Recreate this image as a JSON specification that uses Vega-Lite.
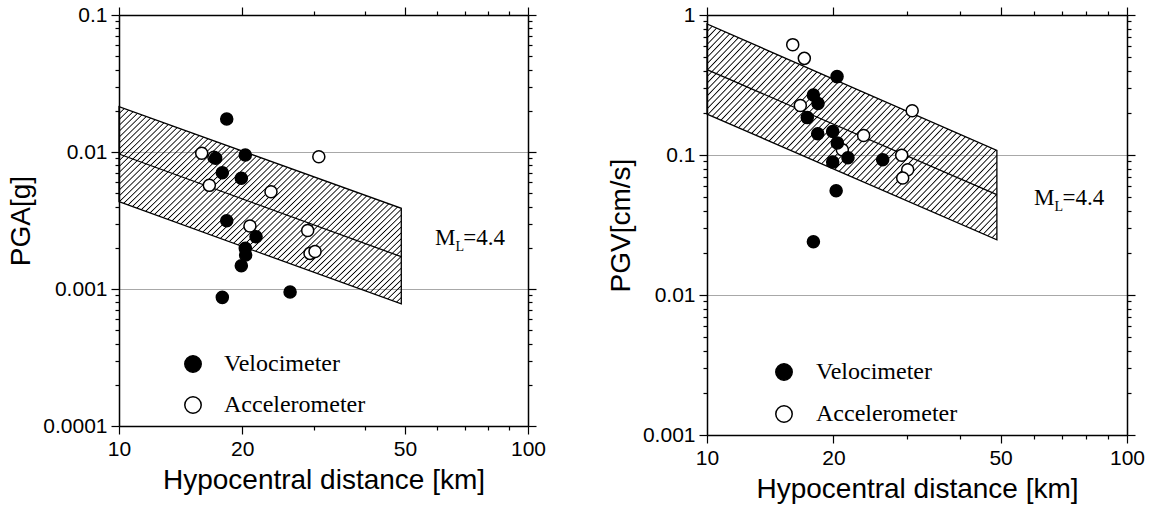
{
  "$schema": "https://vega.github.io/schema/vega-lite/v6.json",
  "background": "white",
  "padding": {"left": 7, "top": 4, "right": 5, "bottom": 5},
  "datasets": {
    "pga_points": [
      {"sensor": "Accelerometer", "distance": 15.93, "pga": 0.00978},
      {"sensor": "Accelerometer", "distance": 17.07, "pga": 0.00915},
      {"sensor": "Accelerometer", "distance": 30.8, "pga": 0.00924},
      {"sensor": "Accelerometer", "distance": 16.63, "pga": 0.00571},
      {"sensor": "Accelerometer", "distance": 23.53, "pga": 0.00513},
      {"sensor": "Accelerometer", "distance": 20.9, "pga": 0.00288},
      {"sensor": "Accelerometer", "distance": 28.93, "pga": 0.00267},
      {"sensor": "Accelerometer", "distance": 29.31, "pga": 0.00182},
      {"sensor": "Accelerometer", "distance": 30.15, "pga": 0.00188},
      {"sensor": "Velocimeter", "distance": 18.34, "pga": 0.0174},
      {"sensor": "Velocimeter", "distance": 17.23, "pga": 0.00899},
      {"sensor": "Velocimeter", "distance": 20.36, "pga": 0.00951},
      {"sensor": "Velocimeter", "distance": 17.89, "pga": 0.00706},
      {"sensor": "Velocimeter", "distance": 19.91, "pga": 0.00643},
      {"sensor": "Velocimeter", "distance": 18.34, "pga": 0.00315},
      {"sensor": "Velocimeter", "distance": 21.63, "pga": 0.00241},
      {"sensor": "Velocimeter", "distance": 20.36, "pga": 0.00198},
      {"sensor": "Velocimeter", "distance": 20.4, "pga": 0.00177},
      {"sensor": "Velocimeter", "distance": 19.91, "pga": 0.00148},
      {"sensor": "Velocimeter", "distance": 17.89, "pga": 0.000869},
      {"sensor": "Velocimeter", "distance": 26.2, "pga": 0.000951}
    ],
    "pgv_points": [
      {"sensor": "Accelerometer", "distance": 16.0, "pgv": 0.614},
      {"sensor": "Accelerometer", "distance": 17.05, "pgv": 0.49},
      {"sensor": "Accelerometer", "distance": 16.68, "pgv": 0.226},
      {"sensor": "Accelerometer", "distance": 30.8, "pgv": 0.207},
      {"sensor": "Accelerometer", "distance": 23.6, "pgv": 0.138},
      {"sensor": "Accelerometer", "distance": 21.0, "pgv": 0.109},
      {"sensor": "Accelerometer", "distance": 29.08, "pgv": 0.0995},
      {"sensor": "Accelerometer", "distance": 30.05, "pgv": 0.0785},
      {"sensor": "Accelerometer", "distance": 29.24, "pgv": 0.0685},
      {"sensor": "Velocimeter", "distance": 20.4, "pgv": 0.363},
      {"sensor": "Velocimeter", "distance": 17.92, "pgv": 0.268},
      {"sensor": "Velocimeter", "distance": 18.38, "pgv": 0.233},
      {"sensor": "Velocimeter", "distance": 17.33, "pgv": 0.185},
      {"sensor": "Velocimeter", "distance": 18.35, "pgv": 0.142},
      {"sensor": "Velocimeter", "distance": 19.92, "pgv": 0.147},
      {"sensor": "Velocimeter", "distance": 20.43, "pgv": 0.122},
      {"sensor": "Velocimeter", "distance": 19.92, "pgv": 0.0891},
      {"sensor": "Velocimeter", "distance": 21.66, "pgv": 0.0957},
      {"sensor": "Velocimeter", "distance": 26.2, "pgv": 0.0926},
      {"sensor": "Velocimeter", "distance": 20.3, "pgv": 0.0556},
      {"sensor": "Velocimeter", "distance": 17.92, "pgv": 0.024}
    ],
    "pga_band": [
      {"distance": 10, "lower": 0.004337, "median": 0.00967, "upper": 0.02143},
      {"distance": 49, "lower": 0.000778, "median": 0.001721, "upper": 0.003882}
    ],
    "pgv_band": [
      {"distance": 10, "lower": 0.196, "median": 0.407, "upper": 0.863},
      {"distance": 49, "lower": 0.0248, "median": 0.0521, "upper": 0.108}
    ],
    "pga_label": [
      {"role": "main", "distance": 59.25, "value": 0.002094, "text": "M"},
      {"role": "sub", "distance": 66.5, "value": 0.001894, "text": "L"},
      {"role": "main", "distance": 69.5, "value": 0.002094, "text": "=4.4"}
    ],
    "pgv_label": [
      {"role": "main", "distance": 60.05, "value": 0.04395, "text": "M"},
      {"role": "sub", "distance": 67.2, "value": 0.0398, "text": "L"},
      {"role": "main", "distance": 70.2, "value": 0.04395, "text": "=4.4"}
    ]
  },
  "spacing": 179,
  "bounds": "flush",
  "resolve": {"legend": {"fill": "independent"}},
  "hconcat": [
    {
      "width": 409,
      "height": 411,
      "resolve": {"axis": {"x": "independent", "y": "independent"}},
      "layer": [
        {
          "data": {"name": "pga_band"},
          "mark": {"type": "area", "stroke": "black", "strokeWidth": 1.3, "opacity": 1},
          "encoding": {
            "x": {"field": "distance", "type": "quantitative", "scale": {"type": "log", "domain": [10, 100], "nice": false},
              "axis": {"orient": "bottom", "values": [10, 20, 30, 40, 50, 60, 70, 80, 90, 100], "format": "~g",
                "labelExpr": "indexof([10,20,50,100], datum.value) >= 0 ? datum.label : ''",
                "tickSize": {"condition": {"test": "indexof([10,20,50,100], datum.value) >= 0", "value": 8}, "value": 4},
                "title": "Hypocentral distance [km]", "grid": false}},
            "y": {"field": "lower", "type": "quantitative", "scale": {"type": "log", "domain": [0.0001, 0.1], "nice": false},
              "axis": {"orient": "left", "values": [0.0001, 0.0002, 0.0003, 0.0004, 0.0005, 0.0006, 0.0007, 0.0008, 0.0009, 0.001, 0.002, 0.003, 0.004, 0.005, 0.006, 0.007, 0.008, 0.009, 0.01, 0.02, 0.03, 0.04, 0.05, 0.06, 0.07, 0.08, 0.09, 0.1],
                "format": "~g",
                "labelExpr": "abs(log(datum.value)/LN10 - round(log(datum.value)/LN10)) < 0.001 ? datum.label : ''",
                "tickSize": {"condition": {"test": "abs(log(datum.value)/LN10 - round(log(datum.value)/LN10)) < 0.001", "value": 8}, "value": 4},
                "grid": true, "gridColor": "#a8a8a8", "gridWidth": 1,
                "gridOpacity": {"condition": {"test": "abs(log(datum.value)/LN10 - round(log(datum.value)/LN10)) < 0.001", "value": 1}, "value": 0},
                "title": "PGA[g]"}},
            "y2": {"field": "upper"}
          }
        },
        {
          "data": {"name": "pga_band"},
          "mark": {"type": "line", "color": "black", "strokeWidth": 1.3},
          "encoding": {
            "x": {"field": "distance", "type": "quantitative", "scale": {"type": "log", "domain": [10, 100], "nice": false},
              "axis": {"orient": "top", "values": [10, 20, 30, 40, 50, 60, 70, 80, 90, 100], "labels": false, "title": null, "grid": false,
                "tickSize": {"condition": {"test": "indexof([10,20,50,100], datum.value) >= 0", "value": 8}, "value": 4}}},
            "y": {"field": "median", "type": "quantitative", "scale": {"type": "log", "domain": [0.0001, 0.1], "nice": false},
              "axis": {"orient": "right", "values": [0.0001, 0.0002, 0.0003, 0.0004, 0.0005, 0.0006, 0.0007, 0.0008, 0.0009, 0.001, 0.002, 0.003, 0.004, 0.005, 0.006, 0.007, 0.008, 0.009, 0.01, 0.02, 0.03, 0.04, 0.05, 0.06, 0.07, 0.08, 0.09, 0.1],
                "labels": false, "title": null, "grid": false,
                "tickSize": {"condition": {"test": "abs(log(datum.value)/LN10 - round(log(datum.value)/LN10)) < 0.001", "value": 8}, "value": 4}}}
          }
        },
        {
          "data": {"name": "pga_points"},
          "mark": {"type": "point", "shape": "circle", "filled": true, "size": 145, "stroke": "black", "strokeWidth": 1.5, "opacity": 1},
          "encoding": {
            "x": {"field": "distance", "type": "quantitative", "scale": {"type": "log", "domain": [10, 100], "nice": false}, "axis": null},
            "y": {"field": "pga", "type": "quantitative", "scale": {"type": "log", "domain": [0.0001, 0.1], "nice": false}, "axis": null},
            "fill": {"field": "sensor", "type": "nominal", "scale": {"domain": ["Velocimeter", "Accelerometer"], "range": ["black", "white"]},
              "legend": {"orient": "none", "legendX": 62, "legendY": 337, "title": null, "rowPadding": 17, "labelOffset": 19, "padding": 0}}
          }
        },
        {
          "data": {"name": "pga_label"},
          "transform": [{"filter": "datum.role == 'main'"}],
          "mark": {"type": "text", "font": "Liberation Serif", "fontSize": 23, "align": "left", "baseline": "alphabetic", "color": "black"},
          "encoding": {
            "x": {"field": "distance", "type": "quantitative", "scale": {"type": "log", "domain": [10, 100], "nice": false}, "axis": null},
            "y": {"field": "value", "type": "quantitative", "scale": {"type": "log", "domain": [0.0001, 0.1], "nice": false}, "axis": null},
            "text": {"field": "text"}
          }
        },
        {
          "data": {"name": "pga_label"},
          "transform": [{"filter": "datum.role == 'sub'"}],
          "mark": {"type": "text", "font": "Liberation Serif", "fontSize": 14, "align": "left", "baseline": "alphabetic", "color": "black"},
          "encoding": {
            "x": {"field": "distance", "type": "quantitative", "scale": {"type": "log", "domain": [10, 100], "nice": false}, "axis": null},
            "y": {"field": "value", "type": "quantitative", "scale": {"type": "log", "domain": [0.0001, 0.1], "nice": false}, "axis": null},
            "text": {"field": "text"}
          }
        }
      ]
    },
    {
      "width": 420,
      "height": 420,
      "resolve": {"axis": {"x": "independent", "y": "independent"}},
      "layer": [
        {
          "data": {"name": "pgv_band"},
          "mark": {"type": "area", "stroke": "black", "strokeWidth": 1.3, "opacity": 1},
          "encoding": {
            "x": {"field": "distance", "type": "quantitative", "scale": {"type": "log", "domain": [10, 100], "nice": false},
              "axis": {"orient": "bottom", "values": [10, 20, 30, 40, 50, 60, 70, 80, 90, 100], "format": "~g",
                "labelExpr": "indexof([10,20,50,100], datum.value) >= 0 ? datum.label : ''",
                "tickSize": {"condition": {"test": "indexof([10,20,50,100], datum.value) >= 0", "value": 8}, "value": 4},
                "title": "Hypocentral distance [km]", "grid": false}},
            "y": {"field": "lower", "type": "quantitative", "scale": {"type": "log", "domain": [0.001, 1], "nice": false},
              "axis": {"orient": "left", "values": [0.001, 0.002, 0.003, 0.004, 0.005, 0.006, 0.007, 0.008, 0.009, 0.01, 0.02, 0.03, 0.04, 0.05, 0.06, 0.07, 0.08, 0.09, 0.1, 0.2, 0.3, 0.4, 0.5, 0.6, 0.7, 0.8, 0.9, 1],
                "format": "~g",
                "labelExpr": "abs(log(datum.value)/LN10 - round(log(datum.value)/LN10)) < 0.001 ? datum.label : ''",
                "tickSize": {"condition": {"test": "abs(log(datum.value)/LN10 - round(log(datum.value)/LN10)) < 0.001", "value": 8}, "value": 4},
                "grid": true, "gridColor": "#a8a8a8", "gridWidth": 1,
                "gridOpacity": {"condition": {"test": "abs(log(datum.value)/LN10 - round(log(datum.value)/LN10)) < 0.001", "value": 1}, "value": 0},
                "title": "PGV[cm/s]"}},
            "y2": {"field": "upper"}
          }
        },
        {
          "data": {"name": "pgv_band"},
          "mark": {"type": "line", "color": "black", "strokeWidth": 1.3},
          "encoding": {
            "x": {"field": "distance", "type": "quantitative", "scale": {"type": "log", "domain": [10, 100], "nice": false},
              "axis": {"orient": "top", "values": [10, 20, 30, 40, 50, 60, 70, 80, 90, 100], "labels": false, "title": null, "grid": false,
                "tickSize": {"condition": {"test": "indexof([10,20,50,100], datum.value) >= 0", "value": 8}, "value": 4}}},
            "y": {"field": "median", "type": "quantitative", "scale": {"type": "log", "domain": [0.001, 1], "nice": false},
              "axis": {"orient": "right", "values": [0.001, 0.002, 0.003, 0.004, 0.005, 0.006, 0.007, 0.008, 0.009, 0.01, 0.02, 0.03, 0.04, 0.05, 0.06, 0.07, 0.08, 0.09, 0.1, 0.2, 0.3, 0.4, 0.5, 0.6, 0.7, 0.8, 0.9, 1],
                "labels": false, "title": null, "grid": false,
                "tickSize": {"condition": {"test": "abs(log(datum.value)/LN10 - round(log(datum.value)/LN10)) < 0.001", "value": 8}, "value": 4}}}
          }
        },
        {
          "data": {"name": "pgv_points"},
          "mark": {"type": "point", "shape": "circle", "filled": true, "size": 145, "stroke": "black", "strokeWidth": 1.5, "opacity": 1},
          "encoding": {
            "x": {"field": "distance", "type": "quantitative", "scale": {"type": "log", "domain": [10, 100], "nice": false}, "axis": null},
            "y": {"field": "pgv", "type": "quantitative", "scale": {"type": "log", "domain": [0.001, 1], "nice": false}, "axis": null},
            "fill": {"field": "sensor", "type": "nominal", "scale": {"domain": ["Velocimeter", "Accelerometer"], "range": ["black", "white"]},
              "legend": {"orient": "none", "legendX": 65, "legendY": 345, "title": null, "rowPadding": 18, "labelOffset": 20, "padding": 0}}
          }
        },
        {
          "data": {"name": "pgv_label"},
          "transform": [{"filter": "datum.role == 'main'"}],
          "mark": {"type": "text", "font": "Liberation Serif", "fontSize": 23, "align": "left", "baseline": "alphabetic", "color": "black"},
          "encoding": {
            "x": {"field": "distance", "type": "quantitative", "scale": {"type": "log", "domain": [10, 100], "nice": false}, "axis": null},
            "y": {"field": "value", "type": "quantitative", "scale": {"type": "log", "domain": [0.001, 1], "nice": false}, "axis": null},
            "text": {"field": "text"}
          }
        },
        {
          "data": {"name": "pgv_label"},
          "transform": [{"filter": "datum.role == 'sub'"}],
          "mark": {"type": "text", "font": "Liberation Serif", "fontSize": 14, "align": "left", "baseline": "alphabetic", "color": "black"},
          "encoding": {
            "x": {"field": "distance", "type": "quantitative", "scale": {"type": "log", "domain": [10, 100], "nice": false}, "axis": null},
            "y": {"field": "value", "type": "quantitative", "scale": {"type": "log", "domain": [0.001, 1], "nice": false}, "axis": null},
            "text": {"field": "text"}
          }
        }
      ]
    }
  ],
  "config": {
    "view": {"stroke": null},
    "axis": {
      "domainColor": "black", "domainWidth": 1.5, "tickColor": "black", "tickWidth": 1.2,
      "labelFont": "Liberation Sans", "labelFontSize": 21, "labelColor": "black", "labelPadding": 4,
      "titleFont": "Liberation Sans", "titleFontSize": 28, "titleFontWeight": "normal", "titleColor": "black",
      "labelFlush": false, "labelOverlap": false
    },
    "axisX": {"titlePadding": 7},
    "axisY": {"titlePadding": 7},
    "legend": {
      "labelFont": "Liberation Serif", "labelFontSize": 24, "labelColor": "black",
      "symbolType": "circle", "symbolSize": 270, "symbolStrokeColor": "black", "symbolStrokeWidth": 1.5, "symbolOpacity": 1
    },
    "area": {
      "fill": {
        "gradient": "linear", "x1": 0, "y1": 0, "x2": 1.13, "y2": 0.81,
        "stops": [
          {"offset": 0, "color": "transparent"}, {"offset": 0.0025, "color": "black"}, {"offset": 0.005, "color": "transparent"},
          {"offset": 0.0125, "color": "transparent"}, {"offset": 0.015, "color": "black"}, {"offset": 0.0175, "color": "transparent"},
          {"offset": 0.025, "color": "transparent"}, {"offset": 0.0275, "color": "black"}, {"offset": 0.03, "color": "transparent"},
          {"offset": 0.0375, "color": "transparent"}, {"offset": 0.04, "color": "black"}, {"offset": 0.0425, "color": "transparent"},
          {"offset": 0.05, "color": "transparent"}, {"offset": 0.0525, "color": "black"}, {"offset": 0.055, "color": "transparent"},
          {"offset": 0.0625, "color": "transparent"}, {"offset": 0.065, "color": "black"}, {"offset": 0.0675, "color": "transparent"},
          {"offset": 0.075, "color": "transparent"}, {"offset": 0.0775, "color": "black"}, {"offset": 0.08, "color": "transparent"},
          {"offset": 0.0875, "color": "transparent"}, {"offset": 0.09, "color": "black"}, {"offset": 0.0925, "color": "transparent"},
          {"offset": 0.1, "color": "transparent"}, {"offset": 0.1025, "color": "black"}, {"offset": 0.105, "color": "transparent"},
          {"offset": 0.1125, "color": "transparent"}, {"offset": 0.115, "color": "black"}, {"offset": 0.1175, "color": "transparent"},
          {"offset": 0.125, "color": "transparent"}, {"offset": 0.1275, "color": "black"}, {"offset": 0.13, "color": "transparent"},
          {"offset": 0.1375, "color": "transparent"}, {"offset": 0.14, "color": "black"}, {"offset": 0.1425, "color": "transparent"},
          {"offset": 0.15, "color": "transparent"}, {"offset": 0.1525, "color": "black"}, {"offset": 0.155, "color": "transparent"},
          {"offset": 0.1625, "color": "transparent"}, {"offset": 0.165, "color": "black"}, {"offset": 0.1675, "color": "transparent"},
          {"offset": 0.175, "color": "transparent"}, {"offset": 0.1775, "color": "black"}, {"offset": 0.18, "color": "transparent"},
          {"offset": 0.1875, "color": "transparent"}, {"offset": 0.19, "color": "black"}, {"offset": 0.1925, "color": "transparent"},
          {"offset": 0.2, "color": "transparent"}, {"offset": 0.2025, "color": "black"}, {"offset": 0.205, "color": "transparent"},
          {"offset": 0.2125, "color": "transparent"}, {"offset": 0.215, "color": "black"}, {"offset": 0.2175, "color": "transparent"},
          {"offset": 0.225, "color": "transparent"}, {"offset": 0.2275, "color": "black"}, {"offset": 0.23, "color": "transparent"},
          {"offset": 0.2375, "color": "transparent"}, {"offset": 0.24, "color": "black"}, {"offset": 0.2425, "color": "transparent"},
          {"offset": 0.25, "color": "transparent"}, {"offset": 0.2525, "color": "black"}, {"offset": 0.255, "color": "transparent"},
          {"offset": 0.2625, "color": "transparent"}, {"offset": 0.265, "color": "black"}, {"offset": 0.2675, "color": "transparent"},
          {"offset": 0.275, "color": "transparent"}, {"offset": 0.2775, "color": "black"}, {"offset": 0.28, "color": "transparent"},
          {"offset": 0.2875, "color": "transparent"}, {"offset": 0.29, "color": "black"}, {"offset": 0.2925, "color": "transparent"},
          {"offset": 0.3, "color": "transparent"}, {"offset": 0.3025, "color": "black"}, {"offset": 0.305, "color": "transparent"},
          {"offset": 0.3125, "color": "transparent"}, {"offset": 0.315, "color": "black"}, {"offset": 0.3175, "color": "transparent"},
          {"offset": 0.325, "color": "transparent"}, {"offset": 0.3275, "color": "black"}, {"offset": 0.33, "color": "transparent"},
          {"offset": 0.3375, "color": "transparent"}, {"offset": 0.34, "color": "black"}, {"offset": 0.3425, "color": "transparent"},
          {"offset": 0.35, "color": "transparent"}, {"offset": 0.3525, "color": "black"}, {"offset": 0.355, "color": "transparent"},
          {"offset": 0.3625, "color": "transparent"}, {"offset": 0.365, "color": "black"}, {"offset": 0.3675, "color": "transparent"},
          {"offset": 0.375, "color": "transparent"}, {"offset": 0.3775, "color": "black"}, {"offset": 0.38, "color": "transparent"},
          {"offset": 0.3875, "color": "transparent"}, {"offset": 0.39, "color": "black"}, {"offset": 0.3925, "color": "transparent"},
          {"offset": 0.4, "color": "transparent"}, {"offset": 0.4025, "color": "black"}, {"offset": 0.405, "color": "transparent"},
          {"offset": 0.4125, "color": "transparent"}, {"offset": 0.415, "color": "black"}, {"offset": 0.4175, "color": "transparent"},
          {"offset": 0.425, "color": "transparent"}, {"offset": 0.4275, "color": "black"}, {"offset": 0.43, "color": "transparent"},
          {"offset": 0.4375, "color": "transparent"}, {"offset": 0.44, "color": "black"}, {"offset": 0.4425, "color": "transparent"},
          {"offset": 0.45, "color": "transparent"}, {"offset": 0.4525, "color": "black"}, {"offset": 0.455, "color": "transparent"},
          {"offset": 0.4625, "color": "transparent"}, {"offset": 0.465, "color": "black"}, {"offset": 0.4675, "color": "transparent"},
          {"offset": 0.475, "color": "transparent"}, {"offset": 0.4775, "color": "black"}, {"offset": 0.48, "color": "transparent"},
          {"offset": 0.4875, "color": "transparent"}, {"offset": 0.49, "color": "black"}, {"offset": 0.4925, "color": "transparent"},
          {"offset": 0.5, "color": "transparent"}, {"offset": 0.5025, "color": "black"}, {"offset": 0.505, "color": "transparent"},
          {"offset": 0.5125, "color": "transparent"}, {"offset": 0.515, "color": "black"}, {"offset": 0.5175, "color": "transparent"},
          {"offset": 0.525, "color": "transparent"}, {"offset": 0.5275, "color": "black"}, {"offset": 0.53, "color": "transparent"},
          {"offset": 0.5375, "color": "transparent"}, {"offset": 0.54, "color": "black"}, {"offset": 0.5425, "color": "transparent"},
          {"offset": 0.55, "color": "transparent"}, {"offset": 0.5525, "color": "black"}, {"offset": 0.555, "color": "transparent"},
          {"offset": 0.5625, "color": "transparent"}, {"offset": 0.565, "color": "black"}, {"offset": 0.5675, "color": "transparent"},
          {"offset": 0.575, "color": "transparent"}, {"offset": 0.5775, "color": "black"}, {"offset": 0.58, "color": "transparent"},
          {"offset": 0.5875, "color": "transparent"}, {"offset": 0.59, "color": "black"}, {"offset": 0.5925, "color": "transparent"},
          {"offset": 0.6, "color": "transparent"}, {"offset": 0.6025, "color": "black"}, {"offset": 0.605, "color": "transparent"},
          {"offset": 0.6125, "color": "transparent"}, {"offset": 0.615, "color": "black"}, {"offset": 0.6175, "color": "transparent"},
          {"offset": 0.625, "color": "transparent"}, {"offset": 0.6275, "color": "black"}, {"offset": 0.63, "color": "transparent"},
          {"offset": 0.6375, "color": "transparent"}, {"offset": 0.64, "color": "black"}, {"offset": 0.6425, "color": "transparent"},
          {"offset": 0.65, "color": "transparent"}, {"offset": 0.6525, "color": "black"}, {"offset": 0.655, "color": "transparent"},
          {"offset": 0.6625, "color": "transparent"}, {"offset": 0.665, "color": "black"}, {"offset": 0.6675, "color": "transparent"},
          {"offset": 0.675, "color": "transparent"}, {"offset": 0.6775, "color": "black"}, {"offset": 0.68, "color": "transparent"},
          {"offset": 0.6875, "color": "transparent"}, {"offset": 0.69, "color": "black"}, {"offset": 0.6925, "color": "transparent"},
          {"offset": 0.7, "color": "transparent"}, {"offset": 0.7025, "color": "black"}, {"offset": 0.705, "color": "transparent"},
          {"offset": 0.7125, "color": "transparent"}, {"offset": 0.715, "color": "black"}, {"offset": 0.7175, "color": "transparent"},
          {"offset": 0.725, "color": "transparent"}, {"offset": 0.7275, "color": "black"}, {"offset": 0.73, "color": "transparent"},
          {"offset": 0.7375, "color": "transparent"}, {"offset": 0.74, "color": "black"}, {"offset": 0.7425, "color": "transparent"},
          {"offset": 0.75, "color": "transparent"}, {"offset": 0.7525, "color": "black"}, {"offset": 0.755, "color": "transparent"},
          {"offset": 0.7625, "color": "transparent"}, {"offset": 0.765, "color": "black"}, {"offset": 0.7675, "color": "transparent"},
          {"offset": 0.775, "color": "transparent"}, {"offset": 0.7775, "color": "black"}, {"offset": 0.78, "color": "transparent"},
          {"offset": 0.7875, "color": "transparent"}, {"offset": 0.79, "color": "black"}, {"offset": 0.7925, "color": "transparent"},
          {"offset": 0.8, "color": "transparent"}, {"offset": 0.8025, "color": "black"}, {"offset": 0.805, "color": "transparent"},
          {"offset": 0.8125, "color": "transparent"}, {"offset": 0.815, "color": "black"}, {"offset": 0.8175, "color": "transparent"},
          {"offset": 0.825, "color": "transparent"}, {"offset": 0.8275, "color": "black"}, {"offset": 0.83, "color": "transparent"},
          {"offset": 0.8375, "color": "transparent"}, {"offset": 0.84, "color": "black"}, {"offset": 0.8425, "color": "transparent"},
          {"offset": 0.85, "color": "transparent"}, {"offset": 0.8525, "color": "black"}, {"offset": 0.855, "color": "transparent"},
          {"offset": 0.8625, "color": "transparent"}, {"offset": 0.865, "color": "black"}, {"offset": 0.8675, "color": "transparent"},
          {"offset": 0.875, "color": "transparent"}, {"offset": 0.8775, "color": "black"}, {"offset": 0.88, "color": "transparent"},
          {"offset": 0.8875, "color": "transparent"}, {"offset": 0.89, "color": "black"}, {"offset": 0.8925, "color": "transparent"},
          {"offset": 0.9, "color": "transparent"}, {"offset": 0.9025, "color": "black"}, {"offset": 0.905, "color": "transparent"},
          {"offset": 0.9125, "color": "transparent"}, {"offset": 0.915, "color": "black"}, {"offset": 0.9175, "color": "transparent"},
          {"offset": 0.925, "color": "transparent"}, {"offset": 0.9275, "color": "black"}, {"offset": 0.93, "color": "transparent"},
          {"offset": 0.9375, "color": "transparent"}, {"offset": 0.94, "color": "black"}, {"offset": 0.9425, "color": "transparent"},
          {"offset": 0.95, "color": "transparent"}, {"offset": 0.9525, "color": "black"}, {"offset": 0.955, "color": "transparent"},
          {"offset": 0.9625, "color": "transparent"}, {"offset": 0.965, "color": "black"}, {"offset": 0.9675, "color": "transparent"},
          {"offset": 0.975, "color": "transparent"}, {"offset": 0.9775, "color": "black"}, {"offset": 0.98, "color": "transparent"},
          {"offset": 0.9875, "color": "transparent"}, {"offset": 0.99, "color": "black"}, {"offset": 0.9925, "color": "transparent"},
          {"offset": 1, "color": "transparent"}
        ]
      }
    }
  }
}
